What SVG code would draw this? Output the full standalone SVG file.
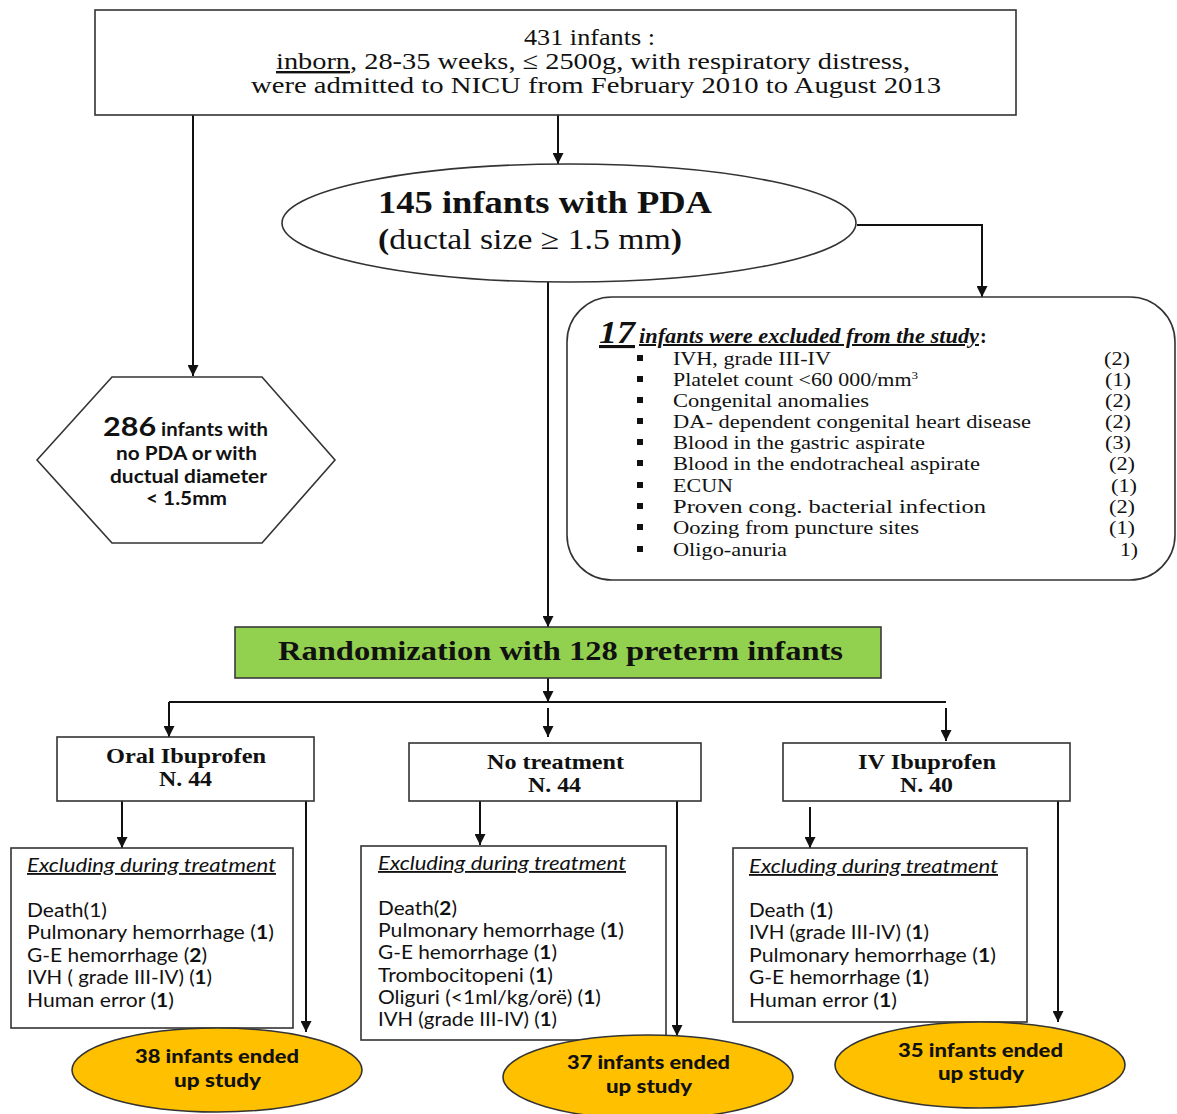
<svg xmlns="http://www.w3.org/2000/svg" width="1177" height="1114" viewBox="0 0 1177 1114">
<style>
.bx{fill:#fff;stroke:#333;stroke-width:1.6}
.cn{fill:none;stroke:#111;stroke-width:2}
.tm{font-family:"Liberation Serif","Times New Roman",serif;fill:#111}
.cb{font-family:Lato,"Open Sans",sans-serif;fill:#111}
.b{font-weight:bold}
.u{text-decoration:underline}
</style>
<defs>
<marker id="ah" markerUnits="userSpaceOnUse" markerWidth="12" markerHeight="11" refX="11" refY="5.5" orient="auto">
<path d="M0,0 L11,5.5 L0,11 Z" fill="#111"/>
</marker>
</defs>

<g id="connectors">
<line class="cn" x1="558" y1="115" x2="558" y2="164" marker-end="url(#ah)"/>
<line class="cn" x1="193" y1="115" x2="193" y2="376" marker-end="url(#ah)"/>
<polyline class="cn" points="857,225 982,225 982,297" marker-end="url(#ah)"/>
<line class="cn" x1="548" y1="282" x2="548" y2="627" marker-end="url(#ah)"/>
<line class="cn" x1="548" y1="678" x2="548" y2="702" marker-end="url(#ah)"/>
<line class="cn" x1="169" y1="702" x2="946" y2="702"/>
<line class="cn" x1="169" y1="702" x2="169" y2="737" marker-end="url(#ah)"/>
<line class="cn" x1="548" y1="708" x2="548" y2="737" marker-end="url(#ah)"/>
<line class="cn" x1="946" y1="708" x2="946" y2="741" marker-end="url(#ah)"/>
<line class="cn" x1="122" y1="801" x2="122" y2="848" marker-end="url(#ah)"/>
<line class="cn" x1="306" y1="801" x2="306" y2="1032" marker-end="url(#ah)"/>
<line class="cn" x1="480" y1="801" x2="480" y2="845" marker-end="url(#ah)"/>
<line class="cn" x1="677" y1="801" x2="677" y2="1036" marker-end="url(#ah)"/>
<line class="cn" x1="810" y1="807" x2="810" y2="848" marker-end="url(#ah)"/>
<line class="cn" x1="1058" y1="801" x2="1058" y2="1022" marker-end="url(#ah)"/>
</g>

<g id="n-top">
<rect class="bx" x="95" y="10" width="921" height="105"/>
<text class="tm" x="524" y="45" font-size="24" textLength="131" lengthAdjust="spacingAndGlyphs">431 infants :</text>
<text class="tm" x="276" y="69" font-size="24" textLength="634" lengthAdjust="spacingAndGlyphs"><tspan class="u">inborn</tspan>, 28-35 weeks, ≤ 2500g, with respiratory distress,</text>
<text class="tm" x="251" y="93" font-size="24" textLength="690" lengthAdjust="spacingAndGlyphs">were admitted to NICU from February 2010 to August 2013</text>
</g>

<g id="n-pda">
<ellipse class="bx" cx="569" cy="223" rx="287" ry="59"/>
<text class="tm b" x="378" y="213" font-size="31" textLength="334" lengthAdjust="spacingAndGlyphs">145 infants with PDA</text>
<text class="tm" x="378" y="249" font-size="29" textLength="304" lengthAdjust="spacingAndGlyphs"><tspan class="b">(</tspan>ductal size ≥ 1.5 mm<tspan class="b">)</tspan></text>
</g>

<g id="n-nopda">
<polygon class="bx" points="37,460 112,377 262,377 335,460 262,543 112,543"/>
<text class="cb b" x="103" y="436" font-size="18" textLength="165" lengthAdjust="spacingAndGlyphs"><tspan font-size="27">286</tspan> infants with</text>
<text class="cb b" x="116" y="460" font-size="18" textLength="141" lengthAdjust="spacingAndGlyphs">no PDA or with</text>
<text class="cb b" x="110" y="483" font-size="18" textLength="157" lengthAdjust="spacingAndGlyphs">ductual diameter</text>
<text class="cb b" x="146" y="505" font-size="18" textLength="81" lengthAdjust="spacingAndGlyphs">&lt; 1.5mm</text>
</g>

<g id="n-excluded">
<rect class="bx" x="567" y="297" width="608" height="283" rx="45" ry="45"/>
<text class="tm b u" x="599" y="343" font-size="31" font-style="italic" textLength="36" lengthAdjust="spacingAndGlyphs">17</text>
<text class="tm b u" x="639" y="343" font-size="20" font-style="italic" textLength="340" lengthAdjust="spacingAndGlyphs">infants were excluded from the study</text>
<text class="tm b" x="980" y="343" font-size="20">:</text>
<g fill="#111">
<rect x="637" y="355" width="6" height="6"/>
<rect x="637" y="376" width="6" height="6"/>
<rect x="637" y="397" width="6" height="6"/>
<rect x="637" y="418" width="6" height="6"/>
<rect x="637" y="439" width="6" height="6"/>
<rect x="637" y="460" width="6" height="6"/>
<rect x="637" y="482" width="6" height="6"/>
<rect x="637" y="503" width="6" height="6"/>
<rect x="637" y="524" width="6" height="6"/>
<rect x="637" y="546" width="6" height="6"/>
</g>
<g class="tm" font-size="18.5">
<text class="tm" x="673" y="365" textLength="158" lengthAdjust="spacingAndGlyphs">IVH, grade III-IV</text>
<text class="tm" x="673" y="386" textLength="245" lengthAdjust="spacingAndGlyphs">Platelet count &lt;60 000/mm<tspan font-size="11" dy="-7">3</tspan></text>
<text class="tm" x="673" y="407" textLength="196" lengthAdjust="spacingAndGlyphs">Congenital anomalies</text>
<text class="tm" x="673" y="428" textLength="358" lengthAdjust="spacingAndGlyphs">DA- dependent congenital heart disease</text>
<text class="tm" x="673" y="449" textLength="252" lengthAdjust="spacingAndGlyphs">Blood in the gastric aspirate</text>
<text class="tm" x="673" y="470" textLength="307" lengthAdjust="spacingAndGlyphs">Blood in the endotracheal aspirate</text>
<text class="tm" x="673" y="492" textLength="60" lengthAdjust="spacingAndGlyphs">ECUN</text>
<text class="tm" x="673" y="513" textLength="313" lengthAdjust="spacingAndGlyphs">Proven cong. bacterial infection</text>
<text class="tm" x="673" y="534" textLength="246" lengthAdjust="spacingAndGlyphs">Oozing from puncture sites</text>
<text class="tm" x="673" y="556" textLength="114" lengthAdjust="spacingAndGlyphs">Oligo-anuria</text>
<text class="tm" x="1104" y="365" textLength="26" lengthAdjust="spacingAndGlyphs">(2)</text>
<text class="tm" x="1105" y="386" textLength="26" lengthAdjust="spacingAndGlyphs">(1)</text>
<text class="tm" x="1105" y="407" textLength="26" lengthAdjust="spacingAndGlyphs">(2)</text>
<text class="tm" x="1105" y="428" textLength="26" lengthAdjust="spacingAndGlyphs">(2)</text>
<text class="tm" x="1105" y="449" textLength="26" lengthAdjust="spacingAndGlyphs">(3)</text>
<text class="tm" x="1109" y="470" textLength="26" lengthAdjust="spacingAndGlyphs">(2)</text>
<text class="tm" x="1111" y="492" textLength="26" lengthAdjust="spacingAndGlyphs">(1)</text>
<text class="tm" x="1109" y="513" textLength="26" lengthAdjust="spacingAndGlyphs">(2)</text>
<text class="tm" x="1109" y="534" textLength="26" lengthAdjust="spacingAndGlyphs">(1)</text>
<text class="tm" x="1120" y="556" textLength="18" lengthAdjust="spacingAndGlyphs">1)</text>
</g>
</g>

<g id="n-random">
<rect x="235" y="627" width="646" height="51" fill="#92D050" stroke="#3a3a3a" stroke-width="1.6"/>
<text class="tm b" x="278" y="660" font-size="28" textLength="565" lengthAdjust="spacingAndGlyphs">Randomization with 128 preterm infants</text>
</g>

<g id="n-oral">
<rect class="bx" x="57" y="737" width="257" height="64"/>
<text class="tm b" x="106" y="763" font-size="22" textLength="160" lengthAdjust="spacingAndGlyphs">Oral Ibuprofen</text>
<text class="tm b" x="159" y="786" font-size="22" textLength="53" lengthAdjust="spacingAndGlyphs">N. 44</text>
</g>

<g id="n-notreat">
<rect class="bx" x="409" y="743" width="292" height="58"/>
<text class="tm b" x="487" y="769" font-size="22" textLength="137" lengthAdjust="spacingAndGlyphs">No treatment</text>
<text class="tm b" x="528" y="792" font-size="22" textLength="53" lengthAdjust="spacingAndGlyphs">N. 44</text>
</g>

<g id="n-iv">
<rect class="bx" x="783" y="743" width="287" height="58"/>
<text class="tm b" x="858" y="769" font-size="22" textLength="138" lengthAdjust="spacingAndGlyphs">IV Ibuprofen</text>
<text class="tm b" x="900" y="792" font-size="22" textLength="53" lengthAdjust="spacingAndGlyphs">N. 40</text>
</g>

<g id="n-excl1">
<rect class="bx" x="11" y="848" width="282" height="180"/>
<text class="cb u" x="27" y="872" font-size="18.5" font-style="italic" textLength="249" lengthAdjust="spacingAndGlyphs">Excluding during treatment</text>
<text class="cb" x="27" y="917" font-size="18.5" textLength="80" lengthAdjust="spacingAndGlyphs">Death(1)</text>
<text class="cb" x="27" y="939" font-size="18.5" textLength="247" lengthAdjust="spacingAndGlyphs">Pulmonary hemorrhage (<tspan class="b">1</tspan>)</text>
<text class="cb" x="27" y="962" font-size="18.5" textLength="180" lengthAdjust="spacingAndGlyphs">G-E hemorrhage (<tspan class="b">2</tspan>)</text>
<text class="cb" x="27" y="984" font-size="18.5" textLength="185" lengthAdjust="spacingAndGlyphs">IVH ( grade III-IV) (<tspan class="b">1</tspan>)</text>
<text class="cb" x="27" y="1007" font-size="18.5" textLength="147" lengthAdjust="spacingAndGlyphs">Human error (<tspan class="b">1</tspan>)</text>
</g>

<g id="n-excl2">
<rect class="bx" x="361" y="846" width="305" height="194"/>
<text class="cb u" x="378" y="870" font-size="18.5" font-style="italic" textLength="248" lengthAdjust="spacingAndGlyphs">Excluding during treatment</text>
<text class="cb" x="378" y="915" font-size="18.5" textLength="79" lengthAdjust="spacingAndGlyphs">Death(<tspan class="b">2</tspan>)</text>
<text class="cb" x="378" y="937" font-size="18.5" textLength="246" lengthAdjust="spacingAndGlyphs">Pulmonary hemorrhage (<tspan class="b">1</tspan>)</text>
<text class="cb" x="378" y="959" font-size="18.5" textLength="179" lengthAdjust="spacingAndGlyphs">G-E hemorrhage (<tspan class="b">1</tspan>)</text>
<text class="cb" x="378" y="982" font-size="18.5" textLength="175" lengthAdjust="spacingAndGlyphs">Trombocitopeni (<tspan class="b">1</tspan>)</text>
<text class="cb" x="378" y="1004" font-size="18.5" textLength="223" lengthAdjust="spacingAndGlyphs">Oliguri (&lt;1ml/kg/orë) (<tspan class="b">1</tspan>)</text>
<text class="cb" x="378" y="1026" font-size="18.5" textLength="179" lengthAdjust="spacingAndGlyphs">IVH (grade III-IV) (<tspan class="b">1</tspan>)</text>
</g>

<g id="n-excl3">
<rect class="bx" x="733" y="848" width="294" height="174"/>
<text class="cb u" x="749" y="873" font-size="18.5" font-style="italic" textLength="249" lengthAdjust="spacingAndGlyphs">Excluding during treatment</text>
<text class="cb" x="749" y="917" font-size="18.5" textLength="84" lengthAdjust="spacingAndGlyphs">Death (<tspan class="b">1</tspan>)</text>
<text class="cb" x="749" y="939" font-size="18.5" textLength="180" lengthAdjust="spacingAndGlyphs">IVH (grade III-IV) (<tspan class="b">1</tspan>)</text>
<text class="cb" x="749" y="962" font-size="18.5" textLength="247" lengthAdjust="spacingAndGlyphs">Pulmonary hemorrhage (<tspan class="b">1</tspan>)</text>
<text class="cb" x="749" y="984" font-size="18.5" textLength="180" lengthAdjust="spacingAndGlyphs">G-E hemorrhage (<tspan class="b">1</tspan>)</text>
<text class="cb" x="749" y="1007" font-size="18.5" textLength="148" lengthAdjust="spacingAndGlyphs">Human error (<tspan class="b">1</tspan>)</text>
</g>

<g id="n-end1">
<ellipse cx="217" cy="1070" rx="145" ry="42" fill="#FFC000" stroke="#333" stroke-width="1.6"/>
<text class="cb" x="135" y="1063" font-size="19" textLength="164" lengthAdjust="spacingAndGlyphs" font-weight="900">38 infants ended</text>
<text class="cb" x="174" y="1087" font-size="19" textLength="87" lengthAdjust="spacingAndGlyphs" font-weight="900">up study</text>
</g>

<g id="n-end2">
<ellipse cx="648" cy="1077" rx="145" ry="42" fill="#FFC000" stroke="#333" stroke-width="1.6"/>
<text class="cb" x="567" y="1069" font-size="19" textLength="163" lengthAdjust="spacingAndGlyphs" font-weight="900">37 infants ended</text>
<text class="cb" x="606" y="1093" font-size="19" textLength="86" lengthAdjust="spacingAndGlyphs" font-weight="900">up study</text>
</g>

<g id="n-end3">
<ellipse cx="980" cy="1065" rx="145" ry="43" fill="#FFC000" stroke="#333" stroke-width="1.6"/>
<text class="cb" x="898" y="1057" font-size="19" textLength="165" lengthAdjust="spacingAndGlyphs" font-weight="900">35 infants ended</text>
<text class="cb" x="938" y="1080" font-size="19" textLength="86" lengthAdjust="spacingAndGlyphs" font-weight="900">up study</text>
</g>
</svg>
